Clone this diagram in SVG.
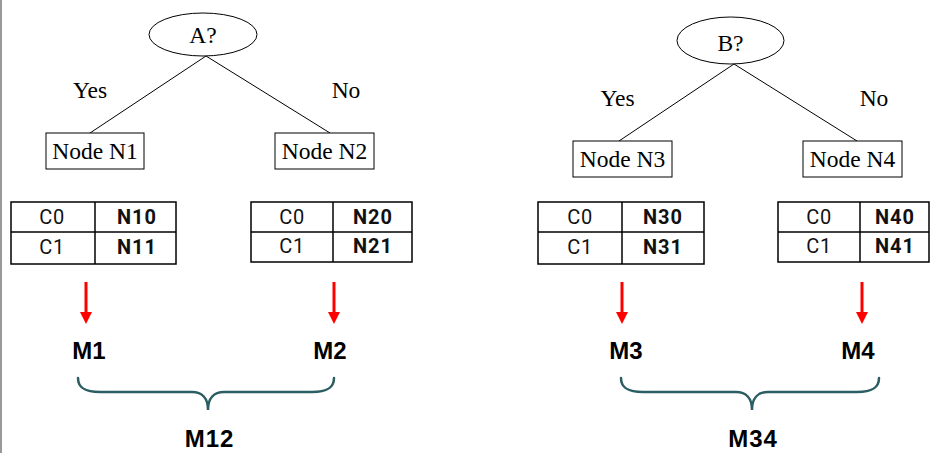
<svg xmlns="http://www.w3.org/2000/svg" width="934" height="453" viewBox="0 0 934 453">
<style>
.serif{font-family:"Liberation Serif","Times New Roman",serif;font-size:23.5px;fill:#000;text-anchor:middle}
.cell{font-family:Roboto,"Liberation Sans",sans-serif;font-size:20px;fill:#111;text-anchor:middle;letter-spacing:0.5px}
.cellb{font-family:Roboto,"Liberation Sans",sans-serif;font-size:20px;font-weight:bold;fill:#111;text-anchor:middle;letter-spacing:1px}
.m{font-family:"Liberation Sans",Arial,sans-serif;font-size:24px;font-weight:bold;fill:#000;text-anchor:middle}
.shape{fill:#fff;stroke:#000;stroke-width:1}
.tbl{fill:#fff;stroke:#000;stroke-width:1.5}
.edge{stroke:#000;stroke-width:1;fill:none}
.red{stroke:#f00;stroke-width:3;fill:none}
.brace{stroke:#2b5e62;stroke-width:2.5;fill:none;stroke-linecap:round}
</style>
<defs>
<marker id="ah" markerWidth="4" markerHeight="4" refX="2" refY="2" orient="auto" markerUnits="strokeWidth" viewBox="0 0 4 4">
<path d="M0,0 L4,2 L0,4 z" fill="#f00"/>
</marker>
</defs>
<rect width="934" height="453" fill="#fff"/>
<line x1="1" y1="0" x2="1" y2="453" stroke="#777" stroke-width="1.5"/>

<g id="connectors">
<line class="edge" x1="206" y1="56" x2="90" y2="133"/>
<line class="edge" x1="206" y1="56" x2="330" y2="133"/>
<line class="edge" x1="734" y1="64" x2="619" y2="141"/>
<line class="edge" x1="734" y1="64" x2="857" y2="141"/>
<line class="red" x1="86" y1="282" x2="86" y2="318" marker-end="url(#ah)"/>
<line class="red" x1="334" y1="282" x2="334" y2="318" marker-end="url(#ah)"/>
<line class="red" x1="622" y1="282" x2="622" y2="318" marker-end="url(#ah)"/>
<line class="red" x1="862" y1="282" x2="862" y2="318" marker-end="url(#ah)"/>
<path class="brace" d="M78,378 C78,388 85,392 100,392 L192,392 C202,392 208,398 208,410 C208,398 214,392 224,392 L312,392 C327,392 334,388 334,378"/>
<path class="brace" d="M621,378 C621,388 628,392 643,392 L736,392 C746,392 752,398 752,410 C752,398 758,392 768,392 L857,392 C872,392 879,388 879,378"/>
</g>

<g id="nodeA">
<ellipse class="shape" cx="203" cy="34.5" rx="54" ry="21.5"/>
<text class="serif" x="203" y="43">A?</text>
</g>
<g id="labelsA">
<text class="serif" x="90" y="98">Yes</text>
<text class="serif" x="346" y="98">No</text>
</g>
<g id="nodeN1">
<rect class="shape" x="46" y="133" width="98" height="36"/>
<text class="serif" x="95" y="159">Node N1</text>
</g>
<g id="nodeN2">
<rect class="shape" x="275" y="133" width="99" height="36"/>
<text class="serif" x="324.5" y="159">Node N2</text>
</g>

<g id="nodeB">
<ellipse class="shape" cx="730.5" cy="40.5" rx="53.5" ry="23.5"/>
<text class="serif" x="730.5" y="51">B?</text>
</g>
<g id="labelsB">
<text class="serif" x="617.5" y="106">Yes</text>
<text class="serif" x="874" y="106">No</text>
</g>
<g id="nodeN3">
<rect class="shape" x="573" y="141" width="99" height="36"/>
<text class="serif" x="622.5" y="167">Node N3</text>
</g>
<g id="nodeN4">
<rect class="shape" x="803" y="141" width="99" height="36"/>
<text class="serif" x="852.5" y="167">Node N4</text>
</g>

<g id="table1">
<rect class="tbl" x="11" y="202" width="165" height="62"/>
<line class="tbl" x1="95" y1="202" x2="95" y2="264"/>
<line class="tbl" x1="11" y1="232" x2="176" y2="232"/>
<text class="cell" x="52" y="224">C0</text>
<text class="cellb" x="137" y="224">N10</text>
<text class="cell" x="52" y="254">C1</text>
<text class="cellb" x="137" y="254">N11</text>
</g>
<g id="table2">
<rect class="tbl" x="251" y="202" width="161" height="60"/>
<line class="tbl" x1="333" y1="202" x2="333" y2="262" stroke-width="2"/>
<line class="tbl" x1="251" y1="232" x2="412" y2="232"/>
<text class="cell" x="292" y="224">C0</text>
<text class="cellb" x="373" y="224">N20</text>
<text class="cell" x="292" y="253">C1</text>
<text class="cellb" x="373" y="253">N21</text>
</g>
<g id="table3">
<rect class="tbl" x="538" y="202" width="166" height="62"/>
<line class="tbl" x1="622" y1="202" x2="622" y2="264"/>
<line class="tbl" x1="538" y1="232" x2="704" y2="232"/>
<text class="cell" x="580" y="224">C0</text>
<text class="cellb" x="663" y="224">N30</text>
<text class="cell" x="580" y="254">C1</text>
<text class="cellb" x="663" y="254">N31</text>
</g>
<g id="table4">
<rect class="tbl" x="778" y="202" width="151" height="60"/>
<line class="tbl" x1="860" y1="202" x2="860" y2="262" stroke-width="2"/>
<line class="tbl" x1="778" y1="232" x2="929" y2="232"/>
<text class="cell" x="819" y="224">C0</text>
<text class="cellb" x="895" y="224">N40</text>
<text class="cell" x="819" y="253">C1</text>
<text class="cellb" x="895" y="253">N41</text>
</g>

<g id="M1"><text class="m" x="89" y="359">M1</text></g>
<g id="M2"><text class="m" x="330" y="359">M2</text></g>
<g id="M3"><text class="m" x="626" y="359">M3</text></g>
<g id="M4"><text class="m" x="858" y="359">M4</text></g>
<g id="M12"><text class="m" x="209.5" y="447" letter-spacing="1">M12</text></g>
<g id="M34"><text class="m" x="753" y="447" letter-spacing="1">M34</text></g>
</svg>
